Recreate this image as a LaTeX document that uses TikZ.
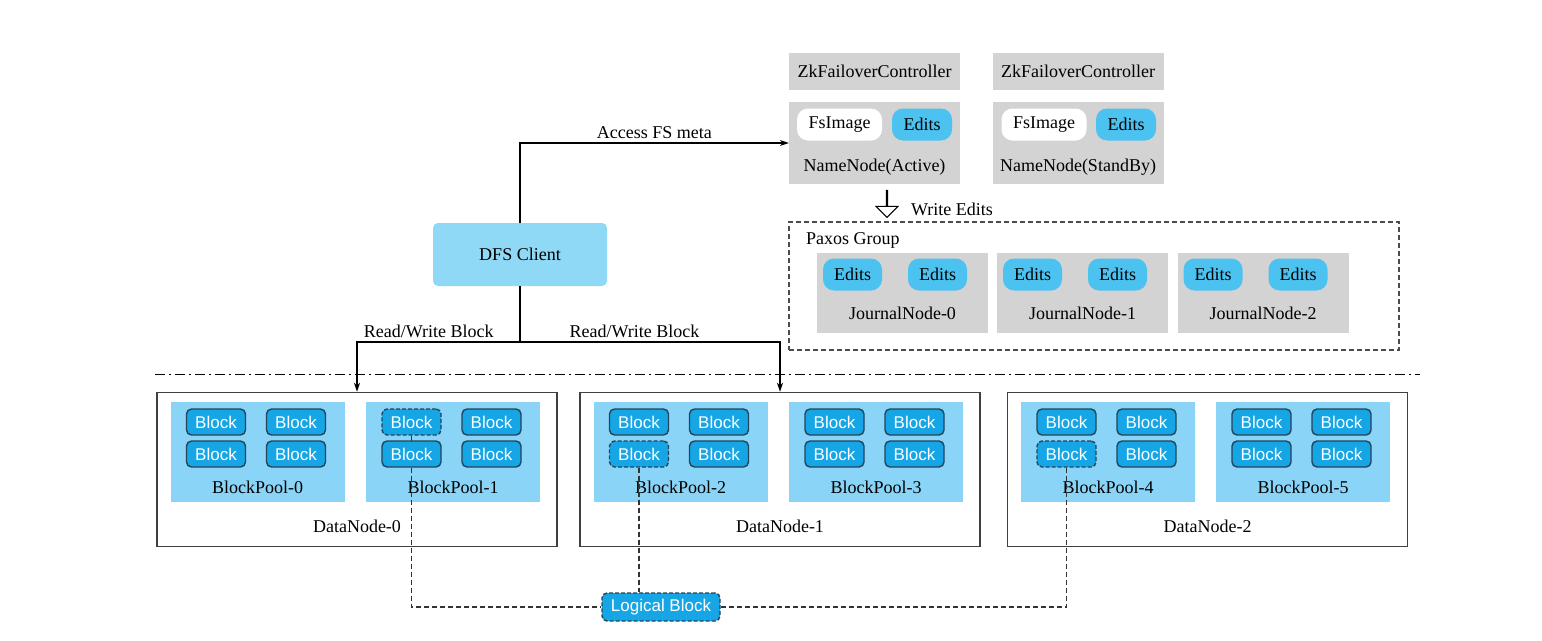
\documentclass[tikz,border=0pt]{standalone}
\usepackage{fontspec}
\setmainfont{Liberation Serif}
\newfontfamily\blockfont{Liberation Sans}
\usetikzlibrary{positioning,shapes.arrows,arrows.meta}

\definecolor{poolblue}{HTML}{8AD4F7}
\definecolor{blockblue}{HTML}{16A6E6}
\definecolor{blockline}{HTML}{24445A}
\definecolor{editsblue}{HTML}{4CC2F0}
\definecolor{boxgray}{HTML}{D3D3D3}
\definecolor{clientblue}{HTML}{8FD8F6}

\pgfdeclarelayer{back}
\pgfdeclarelayer{mid}
\pgfsetlayers{back,mid,main}

\begin{document}
\begin{tikzpicture}[x=1pt, y=-1pt, font=\fontsize{18}{20}\selectfont,
  graybox/.style={fill=boxgray, inner sep=0pt, minimum width=171, minimum height=37},
  pill/.style={rounded corners=11, inner sep=0pt, minimum height=32, minimum width=60},
  pool/.style={fill=poolblue, inner sep=0pt, minimum width=174, minimum height=100},
  datanode/.style={draw=black!75, line width=1.5pt, fill=white, inner sep=0pt, minimum width=400, minimum height=154},
  block/.style={draw=blockline, line width=1.4pt, fill=blockblue, rounded corners=5, inner sep=0pt,
    minimum width=59, minimum height=26, text=white, font=\blockfont\fontsize{17}{18}\selectfont},
  conn/.style={line width=1.2pt, -{Stealth[length=9pt,width=6pt]}},
  dline/.style={line width=1.2pt, black!80, dash pattern=on 5pt off 3pt},
  blk-1-1-1/.style={dash pattern=on 4pt off 2pt},
  blk-2-2-1/.style={dash pattern=on 4pt off 2pt},
  blk-4-2-1/.style={dash pattern=on 4pt off 2pt}]
  \useasboundingbox (0,0) rectangle (1542,640);

  % NameNodes
  \node[graybox] (zkA) at (874.5,71.5) {ZkFailoverController};
  \node[graybox] (zkS) at (1078,71.5) {ZkFailoverController};
  \node[graybox, minimum height=82] (nnA) at (874.5,143) {};
  \node[graybox, minimum height=82] (nnS) at (1078,143) {};
  \node[pill, fill=white, minimum width=85] (fsA) at (839.5,124.5) {FsImage};
  \node[pill, fill=editsblue] (edA) at (922,124.5) {Edits};
  \node[pill, fill=white, minimum width=85] (fsS) at (1044,124.5) {FsImage};
  \node[pill, fill=editsblue] (edS) at (1126,124.5) {Edits};
  \node at (874.5,167) {NameNode(Active)};
  \node at (1078,167) {NameNode(StandBy)};

  % Write Edits
  \node[draw, fill=white, line width=1pt, single arrow, shape border rotate=270, inner sep=0pt,
    minimum height=27, minimum width=22, single arrow head extend=7] (wr) at (887,203.5) {};
  \node at (952,209) {Write Edits};

  % Paxos group
  \node[draw=black!70, line width=1.2pt, dash pattern=on 5pt off 3pt, inner sep=0pt,
    minimum width=610, minimum height=128] (paxos) at (1094,286) {};
  \node[anchor=west, inner sep=0pt] at (806,240) {Paxos Group};
  \foreach \i/\x in {0/902.5,1/1082.5,2/1263} {
    \node[graybox, minimum height=80] (jn\i) at (\x,293) {};
    \node[pill, fill=editsblue, minimum width=59] (je\i a) at (\x-50,274.5) {Edits};
    \node[pill, fill=editsblue, minimum width=59] (je\i b) at (\x+35,274.5) {Edits};
    \node at (\x,313) {JournalNode-\i};
  }

  % Client
  \node[fill=clientblue, rounded corners=5, minimum width=174, minimum height=63] (client) at (520,254.5) {DFS Client};
  \coordinate (split) at (520,342);
  \draw[conn] (client.north) |- (nnA.west) node[pos=0.75, above] {Access FS meta};
  \draw[line width=1.2pt] (client.south) -- (split);

  % DataNodes
  \begin{pgfonlayer}{back}
    \foreach \d/\x in {0/357,1/780,2/1207.5} {
      \node[datanode] (dn\d) at (\x,469.5) {};
      \node at (\x,526) {DataNode-\d};
    }
    \foreach \p/\x in {0/257.5,1/453,2/680.5,3/876,4/1108,5/1303} {
      \node[pool] (bp\p) at (\x,452) {};
      \node at (\x,487) {BlockPool-\p};
    }
  \end{pgfonlayer}
  \foreach \p/\x in {0/257.5,1/453,2/680.5,3/876,4/1108,5/1303}
    \foreach \r/\y in {1/422,2/454}
      \foreach \c/\dx in {1/-41.5,2/38.5}
        \node[block, blk-\p-\r-\c/.try] (b\p\r\c) at (\x+\dx,\y) {Block};

  \draw[conn] (split) -| (dn0.north) node[pos=0.28, above] {Read/Write Block};
  \draw[conn] (split) -| (dn1.north) node[pos=0.22, above] {Read/Write Block};
  \draw[line width=1pt, dash pattern=on 10pt off 4pt on 2pt off 4pt] (155,374) -- (1420,374);

  % Logical block
  \node[block, dash pattern=on 4pt off 2pt, minimum width=118, minimum height=28] (lb) at (661,607) {Logical Block};
  \begin{pgfonlayer}{mid}
    \draw[dline] (b111.south) |- (lb.west);
    \draw[dline] (b221.south) -- (b221.south |- lb.north);
    \draw[dline] (b421.south) |- (lb.east);
  \end{pgfonlayer}
\end{tikzpicture}
\end{document}
